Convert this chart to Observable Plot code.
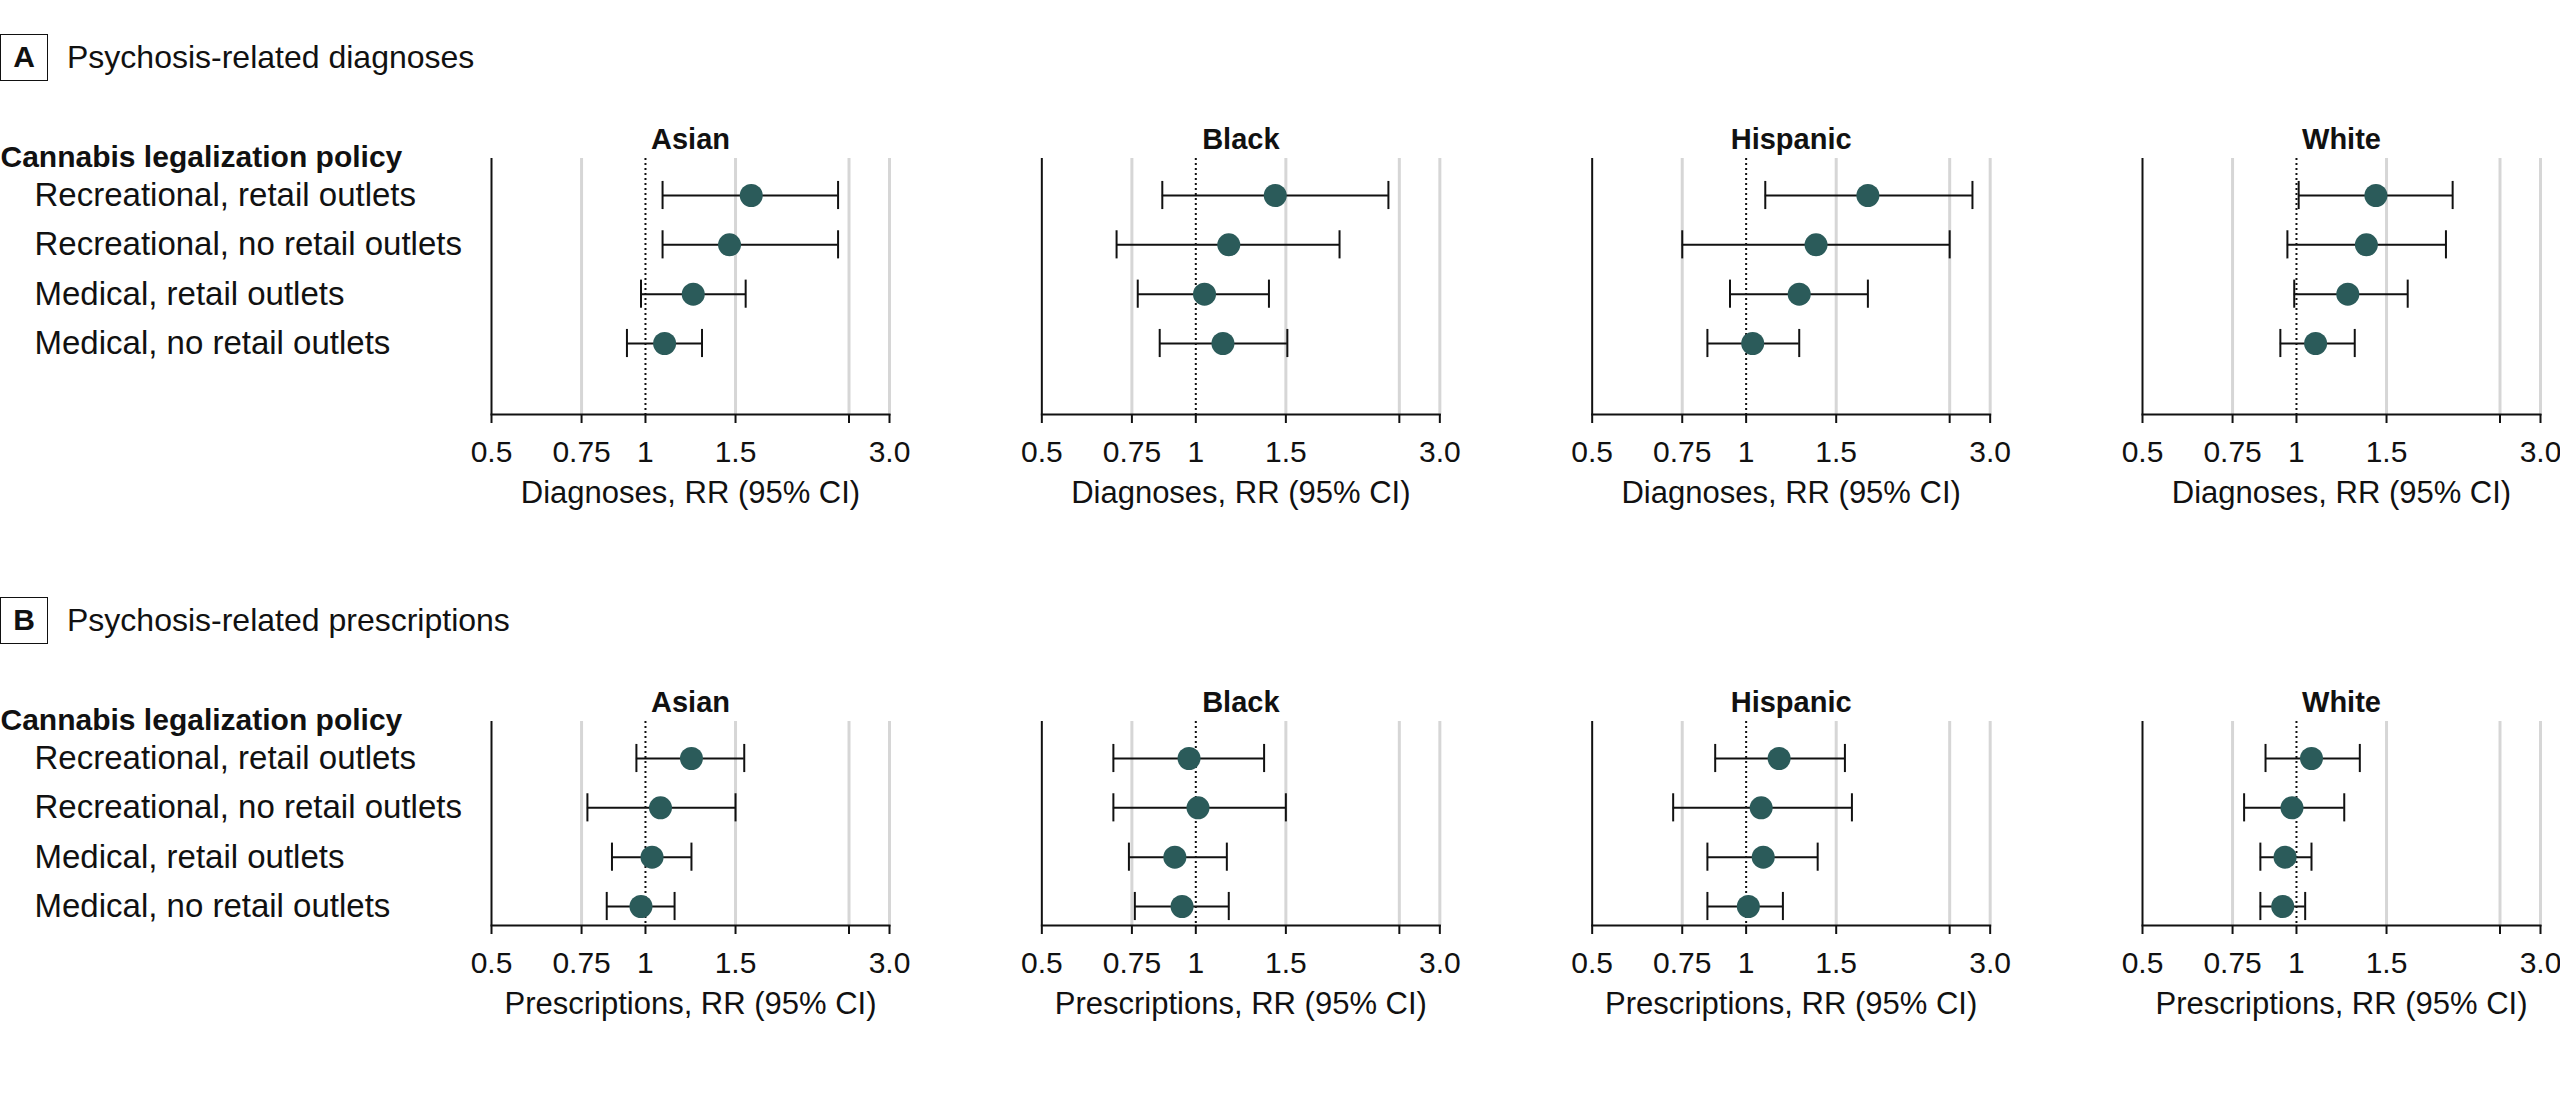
<!DOCTYPE html>
<html><head><meta charset="utf-8">
<script src="https://cdn.jsdelivr.net/npm/d3@7"></script>
<script src="https://cdn.jsdelivr.net/npm/@observablehq/plot@0.6"></script>
<style>
body{margin:0;background:#fff;font-family:"Liberation Sans",Arial,sans-serif;color:#111;}
#wrap{position:relative;width:2560px;height:1113px;overflow:hidden}
.ptitle{position:absolute;left:0;display:flex;align-items:center;height:48px}
.box{width:46px;height:45px;border:1.5px solid #111;display:flex;align-items:center;justify-content:center;font-weight:bold;font-size:30px}
.ptext{margin-left:19px;font-size:32px}
.chart{position:absolute;left:0}
</style></head>
<body><div id="wrap">
<div class="ptitle" style="top:33px"><div class="box">A</div><div class="ptext">Psychosis-related diagnoses</div></div>
<div class="chart" id="A" style="top:100px"></div>
<div class="ptitle" style="top:596px"><div class="box">B</div><div class="ptext">Psychosis-related prescriptions</div></div>
<div class="chart" id="B" style="top:663px"></div>
</div>
<script>
const races = ["Asian", "Black", "Hispanic", "White"];
const policies = ["Recreational, retail outlets", "Recreational, no retail outlets", "Medical, retail outlets", "Medical, no retail outlets"];
const policyHeader = "Cannabis legalization policy";
const tickValues = [0.5, 0.75, 1, 1.5, 2.5, 3];
const tickLabels = ["0.5", "0.75", "1", "1.5", "", "3.0"];
const gridValues = [0.75, 1.5, 2.5, 3];

// order: Asian (4 policies), Black, Hispanic, White
const diagRR = [1.61, 1.46, 1.24, 1.09,  1.43, 1.16, 1.04, 1.13,  1.73, 1.37, 1.27, 1.03,  1.43, 1.37, 1.26, 1.09];
const diagLo = [1.08, 1.08, 0.98, 0.92,  0.86, 0.70, 0.77, 0.85,  1.09, 0.75, 0.93, 0.84,  1.01, 0.96, 0.99, 0.93];
const diagHi = [2.38, 2.38, 1.57, 1.29,  2.38, 1.91, 1.39, 1.51,  2.77, 2.50, 1.73, 1.27,  2.02, 1.96, 1.65, 1.30];

const rxRR = [1.23, 1.07, 1.03, 0.98,  0.97, 1.01, 0.91, 0.94,  1.16, 1.07, 1.08, 1.01,  1.07, 0.98, 0.95, 0.94];
const rxLo = [0.96, 0.77, 0.86, 0.84,  0.69, 0.69, 0.74, 0.76,  0.87, 0.72, 0.84, 0.84,  0.87, 0.79, 0.85, 0.85];
const rxHi = [1.56, 1.50, 1.23, 1.14,  1.36, 1.50, 1.15, 1.16,  1.56, 1.61, 1.38, 1.18,  1.33, 1.24, 1.07, 1.04];

const FONT = '"Liberation Sans", Arial, sans-serif';

function panel(rr, lo, hi, xTitle, H, mb) {
  const data = rr.map((v, i) => ({race: races[Math.floor(i / 4)], policy: policies[i % 4], rr: v, lo: lo[i], hi: hi[i]}));
  return Plot.plot({
    width: 2560, height: H,
    marginLeft: 491, marginRight: 20, marginTop: 58, marginBottom: mb,
    style: {fontFamily: FONT, color: "#111", background: "transparent", overflow: "visible"},
    fx: {domain: races, axis: null, paddingInner: 0.2768, paddingOuter: 0, round: false},
    x: {type: "log", domain: [0.5, 3]},
    y: {type: "band", domain: policies, range: [70.33, 267.67], padding: 0, round: false},
    marks: [
      Plot.ruleX(gridValues, {stroke: "#d6d6d6", strokeWidth: 3}),
      Plot.ruleX([1], {stroke: "#111", strokeWidth: 2, strokeDasharray: "2,3"}),
      Plot.ruleX([0.5], {stroke: "#111", strokeWidth: 2}),
      Plot.frame({anchor: "bottom", stroke: "#111", strokeWidth: 2}),
      Plot.axisX({ticks: tickValues, tickFormat: d => tickLabels[tickValues.indexOf(d)], tickSize: 9, tickPadding: 17, fontSize: 30, label: null, strokeWidth: 2}),
      Plot.axisY({anchor: "left", tickSize: 0, tickPadding: 0, textAnchor: "start", dx: -457, fontSize: 33, label: null}),
      Plot.text(races, {fx: d => d, text: d => d, frameAnchor: "top", dy: -30, fontSize: 29, fontWeight: "bold"}),
      Plot.text([{race: "Asian", label: policyHeader}], {fx: "race", text: "label", frameAnchor: "top-left", textAnchor: "start", dx: -491, dy: -13, fontSize: 30, fontWeight: "bold"}),
      Plot.text([xTitle], {text: d => d, frameAnchor: "bottom", dy: 88, fontSize: 31}),
      Plot.ruleY(data, {fx: "race", y: "policy", x1: "lo", x2: "hi", stroke: "#111", strokeWidth: 2}),
      Plot.tickX(data, {fx: "race", y: "policy", x: "lo", insetTop: 10.6, insetBottom: 10.6, stroke: "#111", strokeWidth: 2}),
      Plot.tickX(data, {fx: "race", y: "policy", x: "hi", insetTop: 10.6, insetBottom: 10.6, stroke: "#111", strokeWidth: 2}),
      Plot.dot(data, {fx: "race", y: "policy", x: "rr", r: 11.5, fill: "#2b5b5a", stroke: "none"})
    ]
  });
}

document.getElementById("A").append(panel(diagRR, diagLo, diagHi, "Diagnoses, RR (95% CI)", 425, 111));
document.getElementById("B").append(panel(rxRR, rxLo, rxHi, "Prescriptions, RR (95% CI)", 420, 158));
</script>
</body></html>
